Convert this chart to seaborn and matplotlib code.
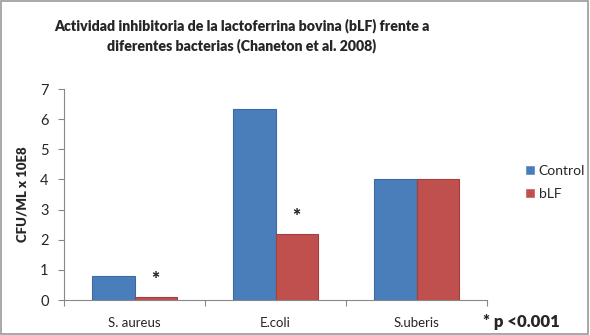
import matplotlib
matplotlib.use("Agg")
import matplotlib.pyplot as plt
import seaborn as sns
import pandas as pd
from matplotlib.patches import Rectangle

categories = ["S. aureus", "E.coli", "S.uberis"]
control = [0.8, 6.35, 4.0]
blf = [0.1, 2.2, 4.0]
series_names = ["Control", "bLF"]
yticks = [0, 1, 2, 3, 4, 5, 6, 7]
star_positions = [0, 1]  # categories with significance marks

df = pd.DataFrame({
    "cat": categories * 2,
    "val": control + blf,
    "serie": [series_names[0]] * 3 + [series_names[1]] * 3,
})

sns.set_theme(style="white")
plt.rcParams["font.family"] = ["Lato", "DejaVu Sans"]

fig = plt.figure(figsize=(5.9, 3.35), dpi=100)
ax = fig.add_axes([64 / 590, 35 / 335, (487 - 64) / 590, (300 - 89) / 335])

palette = {"Control": "#4a7ebb", "bLF": "#c0504d"}
sns.barplot(data=df, x="cat", y="val", hue="serie", palette=palette,
            width=0.6, ax=ax, saturation=1, legend=True)
edges = {"Control": "#3a6aa3", "bLF": "#a53f3c"}
for cont, name in zip(ax.containers, series_names):
    for p in cont:
        p.set_edgecolor(edges[name])
        p.set_linewidth(0.8)

ax.set_xlim(-0.5, 2.5)
ax.set_ylim(0, 7)
ax.set_yticks(yticks)
ax.set_yticklabels([str(t) for t in yticks], fontsize=10.5)
ax.set_xticks([0, 1, 2])
ax.set_xticklabels(categories, fontsize=9.5)
ax.set_xticks([-0.5, 0.5, 1.5, 2.5], minor=True)
ax.tick_params(axis="x", which="major", length=0, pad=12)
ax.tick_params(axis="x", which="minor", length=4, color="#888888", width=0.8, direction="out", bottom=True)
ax.tick_params(axis="y", length=4, color="#888888", width=0.8, direction="out", left=True, pad=7)
ax.set_xlabel("")
ax.set_ylabel("CFU/ML x 10E8", fontsize=9.5, fontweight="heavy", labelpad=8)
for s in ["top", "right"]:
    ax.spines[s].set_visible(False)
for s in ["left", "bottom"]:
    ax.spines[s].set_color("#888888")
    ax.spines[s].set_linewidth(0.8)

# significance stars above bLF bars
for i in star_positions:
    ax.text(i + 0.15, blf[i] + 0.3, "*", ha="center", va="bottom",
            fontsize=14, fontweight="heavy")

leg = ax.legend(loc="upper left", bbox_to_anchor=(1.06, 0.7), frameon=False,
                fontsize=10, handlelength=0.7, handleheight=0.7,
                handletextpad=0.3, labelspacing=0.8)

fig.text(242 / 590, 1 - 36 / 335,
         "Actividad inhibitoria de la lactoferrina bovina (bLF) frente a\ndiferentes bacterias (Chaneton et al. 2008)",
         ha="center", va="center", fontsize=10.2, fontweight="heavy", linespacing=1.45)
fig.text(521 / 590, 1 - 322 / 335, "* p <0.001", ha="center", va="center",
         fontsize=12, fontweight="heavy")

fig.patches.append(Rectangle((0.002, 0.003), 0.995, 0.993, transform=fig.transFigure,
                             fill=False, edgecolor="#999999", linewidth=1.2))

fig.savefig("out.png", dpi=100)
